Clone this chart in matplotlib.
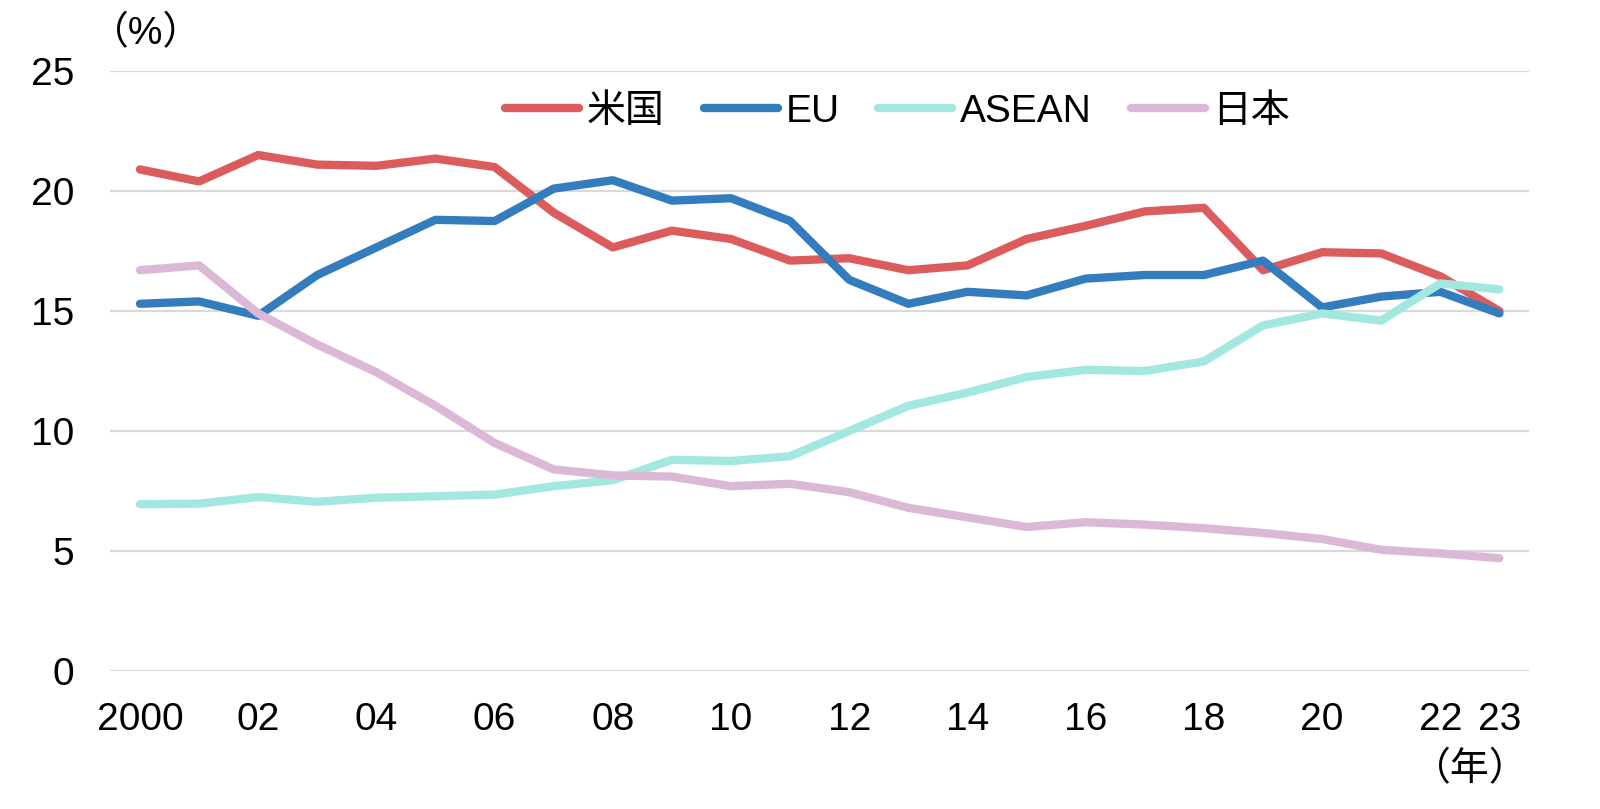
import matplotlib
matplotlib.use("Agg")
import matplotlib.pyplot as plt
import numpy as np

plt.rcParams['font.family'] = ['Liberation Sans', 'Noto Sans CJK JP']

# Data
years = list(range(2000, 2024))
tick_pos = [0, 2, 4, 6, 8, 10, 12, 14, 16, 18, 20, 22, 23]
tick_labels = ['2000', '02', '04', '06', '08', '10', '12', '14', '16', '18', '20', '22', '23']

us = [20.9, 20.4, 21.5, 21.1, 21.05, 21.35, 21.0, 19.1, 17.65, 18.35, 18.0, 17.1,
      17.2, 16.7, 16.9, 18.0, 18.55, 19.15, 19.3, 16.7, 17.45, 17.4, 16.45, 15.0]
eu = [15.3, 15.4, 14.8, 16.5, 17.65, 18.8, 18.75, 20.1, 20.45, 19.6, 19.7, 18.75,
      16.3, 15.3, 15.8, 15.65, 16.35, 16.5, 16.5, 17.1, 15.15, 15.6, 15.8, 14.9]
asean = [6.95, 6.97, 7.25, 7.05, 7.22, 7.28, 7.35, 7.7, 7.95, 8.8, 8.75, 8.95,
         10.0, 11.05, 11.6, 12.25, 12.55, 12.5, 12.9, 14.4, 14.9, 14.6, 16.15, 15.9]
japan = [16.7, 16.9, 14.9, 13.6, 12.45, 11.05, 9.5, 8.4, 8.15, 8.1, 7.7, 7.8,
         7.45, 6.8, 6.4, 6.0, 6.2, 6.1, 5.95, 5.75, 5.5, 5.05, 4.9, 4.7]

series = [('米国', us, '#dc5c5e'),
          ('EU', eu, '#337dbf'),
          ('ASEAN', asean, '#a3e8e0'),
          ('日本', japan, '#dbb9d6')]

fig = plt.figure(figsize=(16, 8.09), dpi=100)
ax = fig.add_axes([0.069, 0.1706, 0.8866, 0.7416])

x = np.arange(len(years))
for name, vals, col in series:
    ax.plot(x, vals, color=col, lw=6, label=name,
            solid_capstyle='round', solid_joinstyle='round')

ax.set_xlim(-0.5, 23.5)
ax.set_ylim(0, 25)
ax.set_yticks([0, 5, 10, 15, 20, 25])
ax.set_xticks(tick_pos)
ax.set_xticklabels(tick_labels)
ax.grid(axis='y', color='#d9d9d9', lw=1.6)
ax.set_axisbelow(True)
for s in ax.spines.values():
    s.set_visible(False)
ax.tick_params(axis='both', length=0, labelsize=28)
ax.tick_params(axis='x', pad=22)
ax.tick_params(axis='y', pad=26)

ax.text(0.025, 1.062, '（%）', transform=ax.transAxes, fontsize=28,
        ha='center', va='center')
ax.text(22.5, -0.165, '（年）', transform=ax.get_xaxis_transform(), fontsize=28,
        ha='center', va='center')

ax.legend(loc='center', bbox_to_anchor=(0.555, 0.932), ncol=4, frameon=False,
          handlelength=1.9, handletextpad=0.2, columnspacing=1.0, fontsize=28)

fig.savefig('out.png', dpi=100)
